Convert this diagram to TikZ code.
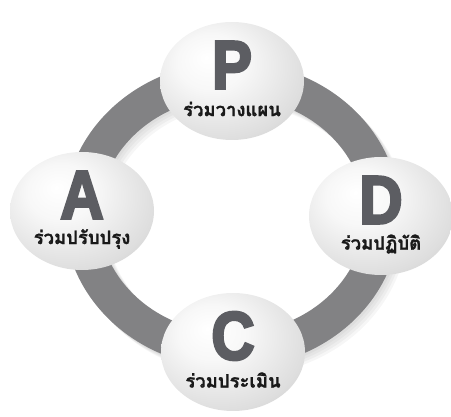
\documentclass[tikz,border=0pt]{standalone}
\usepackage{fontspec}
\usepackage{tikz}
\usetikzlibrary{shapes.geometric}

\newfontfamily\thaifont[Script=Thai, FakeBold=1.2]{Loma}
\newfontfamily\capfont[FakeBold=4]{Liberation Sans}

\definecolor{ringgray}{RGB}{130,130,132}
\definecolor{capgray}{RGB}{92,93,98}
\definecolor{labelink}{RGB}{25,25,25}

\pgfdeclareradialshading{ballshade}{\pgfpoint{-9bp}{10bp}}{%
  color(0bp)=(white);
  color(12bp)=(gray!6);
  color(30bp)=(gray!26);
  color(44bp)=(gray!50);
  color(52bp)=(gray!64);
  color(62bp)=(gray!52)}

\tikzset{
  ball/.style={ellipse, minimum width=144pt, minimum height=118pt,
    inner sep=0pt, shading=ballshade},
  letter/.style={font=\capfont\bfseries\fontsize{68}{68}\selectfont,
    text=capgray, inner sep=0pt},
  thai/.style={font=\thaifont\bfseries\fontsize{18.5}{20}\selectfont,
    text=labelink, inner sep=0pt}
}

\begin{document}
\begin{tikzpicture}[x=1pt, y=-1pt]
   			\useasboundingbox (0,0) rectangle (451,417);
   			\coordinate (ctr) at (232,215);

   			% soft shadow, then the ring under the four balls
   			\foreach \s in {2,4,6,8}{
   				\fill[black, opacity=0.035, even odd rule]
   					([shift={(\s,\s)}]ctr) ellipse [x radius=168pt, y radius=153pt]
   					([shift={(\s,\s)}]ctr) ellipse [x radius=133pt, y radius=118pt];
   			}
   			\fill[ringgray, even odd rule]
   				(ctr) ellipse [x radius=168pt, y radius=153pt]
   				(ctr) ellipse [x radius=133pt, y radius=118pt];

   			\foreach \name/\x/\y/\letter/\label in {
   				plan/232/81/P/ร่วมวางแผน,
   				act/82/211/A/ร่วมปรับปรุง,
   				do/381/216/D/ร่วมปฏิบัติ,
   				check/233/352/C/ร่วมประเมิน
   			}{
   				\node[ball] (\name) at (\x,\y) {};
   				\node[letter] (\name-l) at ([yshift=16pt]\name.center) {\scalebox{0.88}[1]{\letter}};
   				\node[thai] (\name-t) at ([yshift=-28pt]\name.center) {\label};
   			}
   		\end{tikzpicture}
\end{document}
